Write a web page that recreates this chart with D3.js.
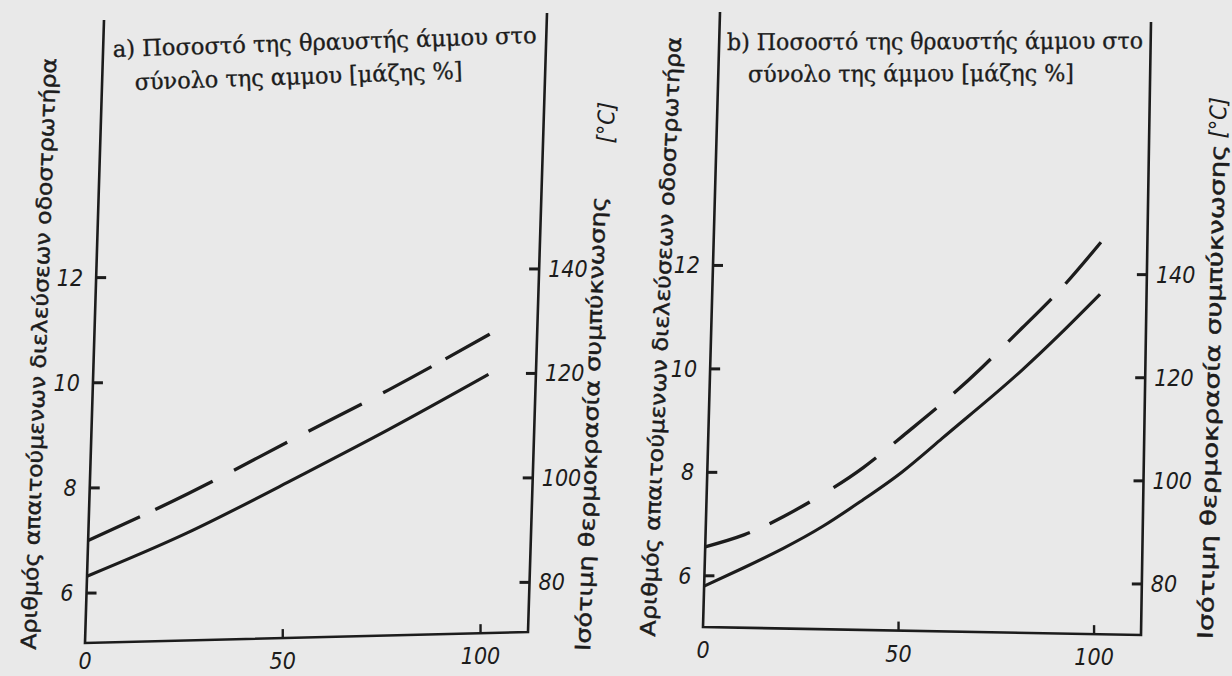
<!DOCTYPE html>
<html>
<head>
<meta charset="utf-8">
<script src="https://cdn.jsdelivr.net/npm/d3@7"></script>
<style>
  html, body { margin: 0; padding: 0; background: #e9e9e9; }
  svg { display: block; }
</style>
</head>
<body>
<svg id="chart" width="1232" height="676"></svg>
<script>
// ---- data -------------------------------------------------------------
// x: share of crushed sand in the total sand [% by mass]
const shareDomain = [0, 112];
const shareTicks = [0, 50, 100];
// left axis: required number of roller passes
const passTicks = [6, 8, 10, 12];
// right axis: equivalent compaction temperature [°C]
const tempTicks = [80, 100, 120, 140];
const toTemp = n => 10 * n + 20;   // 6 passes <-> 80 °C, 12 passes <-> 140 °C

// panel a
const shareA = [0, 25, 50, 75, 100];
const passesA = [6.32, 7.10, 8.02, 8.98, 10.0];
const passesADashed = [7.0, 7.85, 8.80, 9.75, 10.77];

// panel b
const shareB = [0, 10, 20, 30, 40, 50, 60, 70, 80, 90, 100];
const passesB = [5.80, 6.17, 6.56, 7.00, 7.52, 8.08, 8.74, 9.40, 10.08, 10.82, 11.60];
const passesBDashed = [6.56, 6.81, 7.18, 7.63, 8.15, 8.78, 9.43, 10.14, 10.91, 11.70, 12.61];

// texts
const titleA = ["a) Ποσοστό της θραυστής άμμου στο", "σύνολο της αμμου [μάζης %]"];
const titleB = ["b) Ποσοστό της θραυστής άμμου στο", "σύνολο της άμμου [μάζης %]"];
const leftLabel = "Αριθμός απαιτούμενων διελεύσεων οδοστρωτήρα";
const rightLabel = "Ισότιμη θερμοκρασία συμπύκνωσης";
const rightUnit = "[°C]";

// ---- styles -----------------------------------------------------------
const ink = "#1c1c1c";
const serifFont = "'DejaVu Serif', 'Liberation Serif', serif";
const sansFont = "'DejaVu Sans', 'Liberation Sans', sans-serif";
const tickFont = "'Liberation Sans Narrow', 'DejaVu Sans Condensed', 'Roboto Condensed', 'Liberation Sans', sans-serif";

const svg = d3.select("#chart");
svg.append("rect").attr("width", 1232).attr("height", 676).attr("fill", "#e9e9e9");

// ---- panels -----------------------------------------------------------
const panels = [
  {
    id: "a",
    corners: { bl: [85, 643], br: [528, 632], tl: [104, 20], tr: [547, 13] },
    passDomain: [5.05, 16.9],
    share: shareA, solid: passesA, dashed: passesADashed,
    dash: "57 17 64 24 60 24 60 24 55 16 60",
    title: titleA,
    titlePos: [{ x: 113, y: 57, a: -1.9, w: 424 }, { x: 135, y: 90, a: -2.0, w: 328 }],
    left: { x: 46, y: 354, a: -88, w: 592 },
    right: { x: 598, y: 424, a: -88, w: 455 },
    unit: { x: 614, y: 123, a: -88 }
  },
  {
    id: "b",
    corners: { bl: [703, 627], br: [1141, 635], tl: [720, 12], tr: [1151, 22] },
    passDomain: [5.01, 16.9],
    share: shareB, solid: passesB, dashed: passesBDashed,
    dash: "47 21.6 45.6 27.8 52 23 55 23 50.4 24.8 60.8 20.6 60",
    title: titleB,
    titlePos: [{ x: 727, y: 50, a: -0.2, w: 416 }, { x: 748, y: 82, a: -0.2, w: 326 }],
    left: { x: 668, y: 337, a: -87.5, w: 600 },
    right: { x: 1219, y: 392, a: -88.5, w: 495 },
    unit: { x: 1226, y: 118, a: -88.5 }
  }
];

function drawPanel(p) {
  const g = svg.append("g").attr("class", "panel-" + p.id);
  const x = d3.scaleLinear().domain(shareDomain).range([0, 1]);
  const y = d3.scaleLinear().domain(p.passDomain).range([0, 1]);
  const yT = d3.scaleLinear().domain(p.passDomain.map(toTemp)).range([0, 1]);

  // bilinear placement of the unit square onto the hand-drawn frame
  const c = p.corners;
  const warp = (u, v) => {
    const bx = c.bl[0] + (c.br[0] - c.bl[0]) * u, by = c.bl[1] + (c.br[1] - c.bl[1]) * u;
    const tx = c.tl[0] + (c.tr[0] - c.tl[0]) * u, ty = c.tl[1] + (c.tr[1] - c.tl[1]) * u;
    return [bx + (tx - bx) * v, by + (ty - by) * v];
  };
  const pt = (s, n) => warp(x(s), y(n));

  // open frame: left, bottom and right axis
  g.append("path")
    .attr("d", d3.line()([warp(0, 1), warp(0, 0), warp(1, 0), warp(1, 1)]))
    .attr("fill", "none").attr("stroke", ink)
    .attr("stroke-width", 2.6).attr("stroke-linejoin", "miter");

  const tickText = (sel) => sel
    .attr("font-family", tickFont).attr("font-style", "italic")
    .attr("font-size", 23).attr("fill", ink);

  // left axis: passes
  passTicks.forEach(t => {
    const [px, py] = pt(0, t);
    g.append("line").attr("x1", px).attr("y1", py).attr("x2", px + 10).attr("y2", py)
      .attr("stroke", ink).attr("stroke-width", 3);
    g.append("text").call(tickText)
      .attr("x", px - 13).attr("y", py).attr("dy", "0.35em")
      .attr("text-anchor", "end").text(t);
  });

  // right axis: temperature
  tempTicks.forEach(t => {
    const [px, py] = warp(1, yT(t));
    g.append("line").attr("x1", px - 10).attr("y1", py).attr("x2", px).attr("y2", py)
      .attr("stroke", ink).attr("stroke-width", 3);
    g.append("text").call(tickText)
      .attr("x", px + 9).attr("y", py).attr("dy", "0.35em")
      .attr("text-anchor", "start").text(t);
  });

  // bottom axis: share of crushed sand
  shareTicks.forEach(t => {
    const [px, py] = pt(t, p.passDomain[0]);
    if (t > 0) {
      g.append("line").attr("x1", px).attr("y1", py).attr("x2", px).attr("y2", py - 9)
        .attr("stroke", ink).attr("stroke-width", 2.4);
    }
    g.append("text").call(tickText)
      .attr("x", px).attr("y", Math.min(py + 31, 669))
      .attr("text-anchor", "middle").text(t);
  });

  // curves
  const line = d3.line()
    .x(d => pt(d[0], d[1])[0])
    .y(d => pt(d[0], d[1])[1])
    .curve(d3.curveNatural);

  g.append("path").datum(d3.zip(p.share, p.solid))
    .attr("d", line).attr("fill", "none")
    .attr("stroke", ink).attr("stroke-width", 3.1);

  g.append("path").datum(d3.zip(p.share, p.dashed))
    .attr("d", line).attr("fill", "none")
    .attr("stroke", ink).attr("stroke-width", 3.3)
    .attr("stroke-dasharray", p.dash);

  // title inside the frame
  p.title.forEach((t, i) => {
    const L = p.titlePos[i];
    g.append("text")
      .attr("transform", `translate(${L.x},${L.y}) rotate(${L.a})`)
      .attr("textLength", L.w).attr("lengthAdjust", "spacingAndGlyphs")
      .attr("font-family", serifFont).attr("font-size", 23)
      .attr("fill", ink).attr("stroke", ink).attr("stroke-width", 0.35)
      .text(t);
  });

  // axis titles, written bottom to top
  const vText = (L, txt, opts) => {
    const el = g.append("text")
      .attr("transform", `translate(${L.x},${L.y}) rotate(${L.a})`)
      .attr("text-anchor", "middle")
      .attr("font-family", opts.font).attr("font-size", opts.size)
      .attr("fill", ink).attr("stroke", ink).attr("stroke-width", opts.bold || 0)
      .text(txt);
    if (L.w) el.attr("textLength", L.w).attr("lengthAdjust", "spacingAndGlyphs");
    if (opts.italic) el.attr("font-style", "italic");
  };
  vText(p.left, leftLabel, { font: sansFont, size: 21, bold: 0.45 });
  vText(p.right, rightLabel, { font: sansFont, size: 21, bold: 0.45 });
  vText(p.unit, rightUnit, { font: tickFont, size: 23, italic: true });
}

panels.forEach(drawPanel);
</script>
</body>
</html>
